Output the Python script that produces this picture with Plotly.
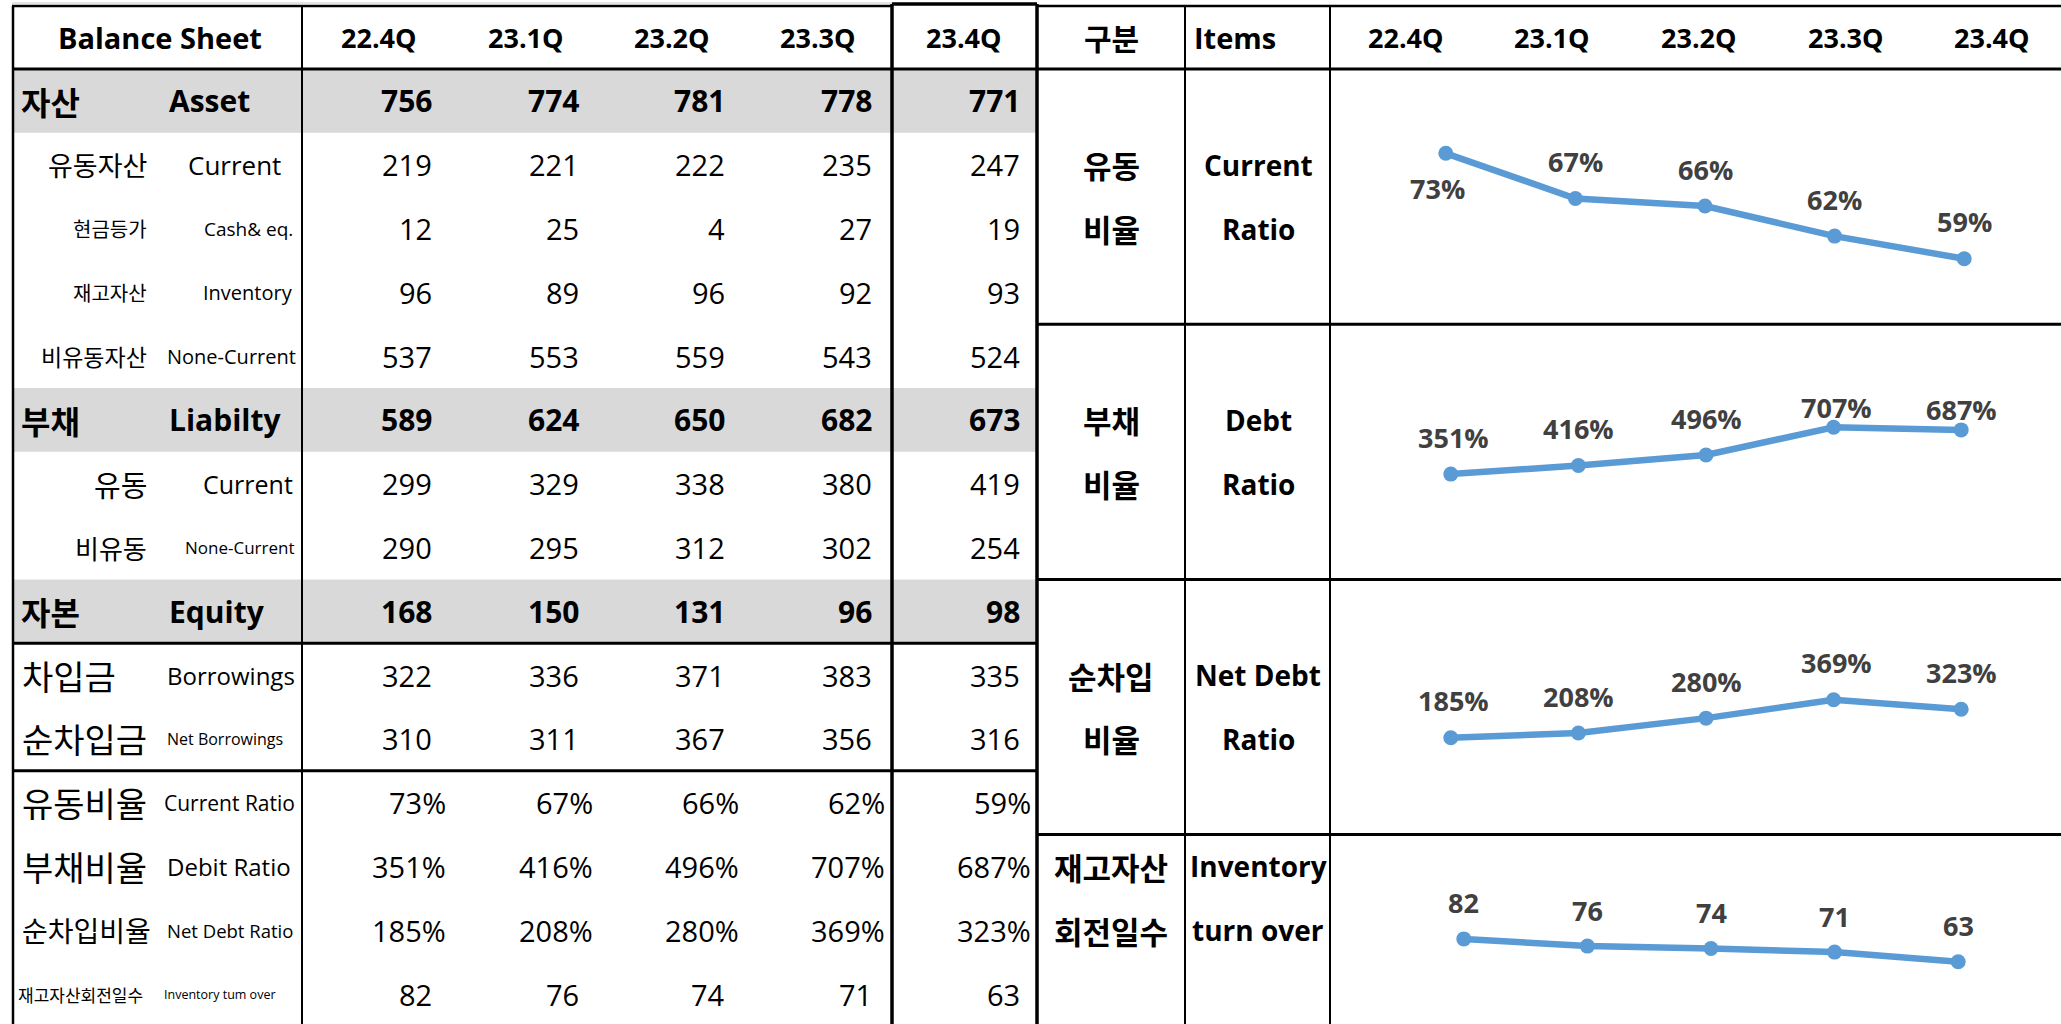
import plotly.graph_objects as go

# ---------------- data ----------------
quarters = ["22.4Q", "23.1Q", "23.2Q", "23.3Q", "23.4Q"]

asset = [756, 774, 781, 778, 771]
current_assets = [219, 221, 222, 235, 247]
cash_eq = [12, 25, 4, 27, 19]
inventory = [96, 89, 96, 92, 93]
noncurrent_assets = [537, 553, 559, 543, 524]
liability = [589, 624, 650, 682, 673]
current_liab = [299, 329, 338, 380, 419]
noncurrent_liab = [290, 295, 312, 302, 254]
equity = [168, 150, 131, 96, 98]
borrowings = [322, 336, 371, 383, 335]
net_borrowings = [310, 311, 367, 356, 316]
current_ratio = [73, 67, 66, 62, 59]
debt_ratio = [351, 416, 496, 707, 687]
net_debt_ratio = [185, 208, 280, 369, 323]
inventory_turnover = [82, 76, 74, 71, 63]

labels_kr = ["자산", "유동자산", "현금등가", "재고자산", "비유동자산", "부채", "유동", "비유동",
             "자본", "차입금", "순차입금", "유동비율", "부채비율", "순차입비율", "재고자산회전일수"]
labels_en = ["Asset", "Current", "Cash& eq.", "Inventory", "None-Current", "Liabilty", "Current",
             "None-Current", "Equity", "Borrowings", "Net Borrowings", "Current Ratio",
             "Debit Ratio", "Net Debt Ratio", "Inventory tum over"]
row_values = [asset, current_assets, cash_eq, inventory, noncurrent_assets, liability,
              current_liab, noncurrent_liab, equity, borrowings, net_borrowings,
              current_ratio, debt_ratio, net_debt_ratio, inventory_turnover]
row_pct = [False] * 11 + [True, True, True, False]
row_bold = [True, False, False, False, False, True, False, False, True,
            False, False, False, False, False, False]

chart_kr = [["유동", "비율"], ["부채", "비율"], ["순차입", "비율"], ["재고자산", "회전일수"]]
chart_en = [["Current", "Ratio"], ["Debt", "Ratio"], ["Net Debt", "Ratio"], ["Inventory", "turn over"]]
chart_series = [current_ratio, debt_ratio, net_debt_ratio, inventory_turnover]
chart_suffix = ["%", "%", "%", ""]

# ---------------- layout / style ----------------
W, H = 2061, 1024
ROW0, RH = 69.0, 63.8
LAT = "Open Sans, Noto Sans CJK KR, sans-serif"
KR = "Noto Sans CJK KR, sans-serif"
BLUE = "#5B9BD5"
LABEL_GRAY = "#404040"
FILL = "#D9D9D9"


def X(px):
    return px / W


def Y(py):
    return 1 - py / H


def row_top(i):
    return ROW0 + RH * i


def row_mid(i):
    return row_top(i) + RH / 2


kr_size = [32, 27, 20, 20, 23, 32, 29, 26, 32, 34, 34, 34, 34, 28, 17]
kr_x = [19, 149, 149, 149, 149, 19, 149, 149, 19, 20, 20, 20, 20, 20, 16]
kr_anchor = ["left", "right", "right", "right", "right", "left", "right", "right",
             "left", "left", "left", "left", "left", "left", "left"]
en_size = [30, 26, 19, 20, 20, 30, 25, 17, 30, 24, 16, 21, 24, 18.5, 12.5]
en_x = [167, 283, 295, 295, 298, 167, 295, 297, 167, 165, 165, 162, 165, 165, 162]
en_anchor = ["left", "right", "right", "right", "right", "left", "right", "right",
             "left", "left", "left", "left", "left", "left", "left"]

val_right = [434, 581, 727, 874, 1022]
pct_right = [448, 595, 741, 887, 1033]
hdr_left_cx = [379, 526, 672, 818, 964]
hdr_right_cx = [1406, 1552, 1699, 1846, 1992]

chart_text_rows = [(1, 2), (5, 6), (9, 10), (12, 13)]
chart_bands = [(69, row_top(4)), (row_top(4), row_top(8)), (row_top(8), row_top(12)), (row_top(12), H)]
chart_xdom = [(1381, 2029), (1387, 2025), (1387, 2025), (1402, 2020)]
chart_yrange = [[50.3, 84.2], [-449, 1490], [-284, 952], [11.1, 168.9]]
label_yshift = [[-35, 37, 37, 37, 37], [37, 37, 37, 20, 20], [37, 37, 37, 37, 37], [36, 36, 36, 36, 36]]
label_xshift = [[-8, 0, 0, 0, 0], [3, 0, 0, 3, 0], [3, 0, 0, 3, 0], [0, 0, 0, 0, 0]]

fig = go.Figure()
shapes = []
ann = []


def rect(x0, y0, x1, y1, color):
    shapes.append(dict(type="rect", xref="paper", yref="paper", x0=X(x0), x1=X(x1),
                       y0=Y(y1), y1=Y(y0), fillcolor=color, line=dict(width=0), layer="below"))


def hline(y, x0, x1, w, color="black"):
    shapes.append(dict(type="line", xref="paper", yref="paper", x0=X(x0), x1=X(x1),
                       y0=Y(y), y1=Y(y), line=dict(color=color, width=w), layer="above"))


def vline(x, y0, y1, w, color="black"):
    shapes.append(dict(type="line", xref="paper", yref="paper", x0=X(x), x1=X(x),
                       y0=Y(y0), y1=Y(y1), line=dict(color=color, width=w), layer="above"))


def text(t, x, y, size, anchor="center", family=LAT, bold=False, color="black"):
    ann.append(dict(text=f"<b>{t}</b>" if bold else t, xref="paper", yref="paper",
                    x=X(x), y=Y(y), xanchor=anchor, yanchor="middle", showarrow=False,
                    font=dict(family=family, size=size, color=color)))


# gray fills of bold rows
for i, b in enumerate(row_bold):
    if b:
        rect(13, row_top(i), 1037, row_top(i + 1), FILL)

# ---- left table text ----
text("Balance Sheet", 160, 37, 29, "center", LAT, True)
for j, q in enumerate(quarters):
    text(q, hdr_left_cx[j], 37, 27, "center", LAT, True)

for i in range(len(labels_kr)):
    ym = row_mid(i)
    b = row_bold[i]
    text(labels_kr[i], kr_x[i], ym, kr_size[i], kr_anchor[i], KR, b)
    text(labels_en[i], en_x[i], ym, en_size[i], en_anchor[i], LAT, b)
    for j, v in enumerate(row_values[i]):
        if row_pct[i]:
            text(f"{v}%", pct_right[j], ym, 29, "right", LAT, False)
        else:
            text(f"{v}", val_right[j], ym, 30 if b else 29, "right", LAT, b)

# ---- right table header ----
text("구분", 1111, 37, 30, "center", KR, True)
text("Items", 1192, 37, 29, "left", LAT, True)
for j, q in enumerate(quarters):
    text(q, hdr_right_cx[j], 37, 27, "center", LAT, True)

# ---- right table row labels + charts ----
layout_axes = {}
for k in range(4):
    r1, r2 = chart_text_rows[k]
    text(chart_kr[k][0], 1111, row_mid(r1), 31, "center", KR, True)
    text(chart_kr[k][1], 1111, row_mid(r2), 31, "center", KR, True)
    text(chart_en[k][0], 1258, row_mid(r1), 28, "center", LAT, True)
    text(chart_en[k][1], 1258, row_mid(r2), 28, "center", LAT, True)

    xa = "x" if k == 0 else f"x{k + 1}"
    ya = "y" if k == 0 else f"y{k + 1}"
    idx = list(range(len(quarters)))
    fig.add_trace(go.Scatter(x=idx, y=chart_series[k], xaxis=xa, yaxis=ya, mode="lines+markers",
                             line=dict(color=BLUE, width=6.5), marker=dict(color=BLUE, size=15),
                             hoverinfo="skip", showlegend=False, cliponaxis=False))
    b0, b1 = chart_bands[k]
    layout_axes["xaxis" if k == 0 else f"xaxis{k + 1}"] = dict(
        domain=[X(chart_xdom[k][0]), X(chart_xdom[k][1])], range=[-0.5, 4.5], visible=False,
        anchor=ya, fixedrange=True)
    layout_axes["yaxis" if k == 0 else f"yaxis{k + 1}"] = dict(
        domain=[Y(b1), Y(b0)], range=chart_yrange[k], visible=False, anchor=xa, fixedrange=True)
    for j, v in enumerate(chart_series[k]):
        ann.append(dict(text=f"<b>{v}{chart_suffix[k]}</b>", xref=xa, yref=ya, x=j, y=v,
                        xanchor="center", yanchor="middle", showarrow=False,
                        yshift=label_yshift[k][j], xshift=label_xshift[k][j],
                        font=dict(family=LAT, size=27, color=LABEL_GRAY)))

# ---- grid lines ----
hline(3, 12, 892, 1, "#C8C8C8")
hline(6, 12, 892, 2.5)
hline(6, 1037, W, 2.5)
hline(4, 892, 1037, 3.5)
hline(69, 12, W, 3)
vline(13, 6, H, 2.5)
vline(302, 6, H, 2)
vline(892, 4, H, 3.5)
vline(1037, 4, H, 3.5)
vline(1185, 6, H, 2)
vline(1330, 6, H, 2)
hline(row_top(9), 12, 1037, 3)
hline(row_top(11), 12, 1037, 3)
for r in (4, 8, 12):
    hline(row_top(r), 1037, W, 3)

fig.update_layout(width=W, height=H, autosize=False, margin=dict(l=0, r=0, t=0, b=0),
                  paper_bgcolor="white", plot_bgcolor="white", shapes=shapes, annotations=ann,
                  showlegend=False, **layout_axes)

fig.write_html("out.html", config={"displayModeBar": False},
               post_script="document.body.style.margin='0';document.body.style.overflow='hidden';")
